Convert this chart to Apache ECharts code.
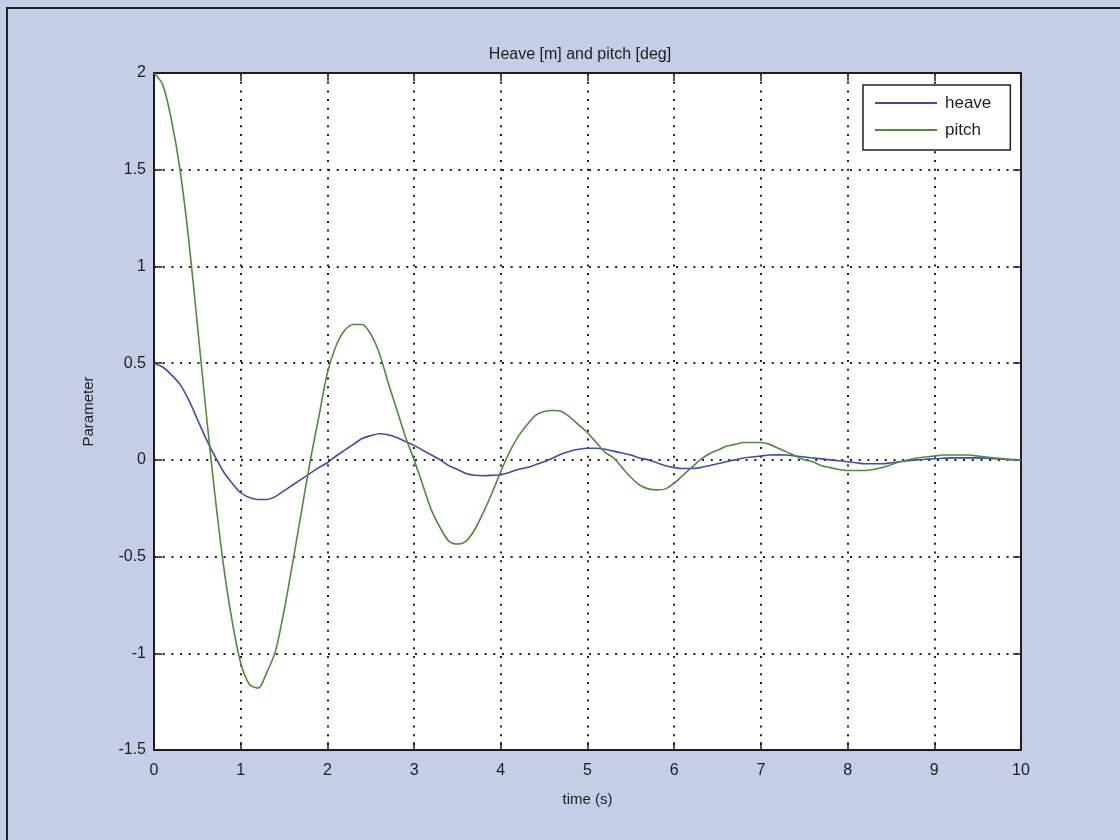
<!DOCTYPE html>
<html>
<head>
<meta charset="utf-8">
<script src="https://cdn.jsdelivr.net/npm/echarts@6/dist/echarts.min.js"></script>
<style>
  html, body { margin: 0; padding: 0; background: #c5cee6; }
  #chart { width: 1120px; height: 840px; }
</style>
</head>
<body>
<div id="chart"></div>
<script>
// Time samples (s)
const time = [
  0.0, 0.1, 0.2, 0.3, 0.4, 0.5, 0.6, 0.7, 0.8, 0.9,
  1.0, 1.1, 1.2, 1.3, 1.4, 1.5, 1.6, 1.7, 1.8, 1.9,
  2.0, 2.1, 2.2, 2.3, 2.4, 2.5, 2.6, 2.7, 2.8, 2.9,
  3.0, 3.1, 3.2, 3.3, 3.4, 3.5, 3.6, 3.7, 3.8, 3.9,
  4.0, 4.1, 4.2, 4.3, 4.4, 4.5, 4.6, 4.7, 4.8, 4.9,
  5.0, 5.1, 5.2, 5.3, 5.4, 5.5, 5.6, 5.7, 5.8, 5.9,
  6.0, 6.1, 6.2, 6.3, 6.4, 6.5, 6.6, 6.7, 6.8, 6.9,
  7.0, 7.1, 7.2, 7.3, 7.4, 7.5, 7.6, 7.7, 7.8, 7.9,
  8.0, 8.1, 8.2, 8.3, 8.4, 8.5, 8.6, 8.7, 8.8, 8.9,
  9.0, 9.1, 9.2, 9.3, 9.4, 9.5, 9.6, 9.7, 9.8, 9.9,
  10.0
];

// Heave response [m]
const heave = [
  0.50, 0.48, 0.44, 0.39, 0.31, 0.21, 0.11, 0.02, -0.06, -0.12,
  -0.17, -0.195, -0.205, -0.205, -0.19, -0.16, -0.13, -0.10, -0.07, -0.04,
  -0.015, 0.02, 0.05, 0.08, 0.11, 0.125, 0.135, 0.13, 0.115, 0.095,
  0.075, 0.05, 0.025, 0.00, -0.03, -0.05, -0.07, -0.08, -0.082, -0.08,
  -0.077, -0.065, -0.05, -0.04, -0.025, -0.01, 0.01, 0.03, 0.045, 0.055,
  0.06, 0.06, 0.055, 0.045, 0.035, 0.025, 0.01, 0.00, -0.015, -0.03,
  -0.04, -0.045, -0.045, -0.04, -0.03, -0.02, -0.01, 0.00, 0.01, 0.015,
  0.02, 0.025, 0.026, 0.025, 0.02, 0.015, 0.01, 0.005, 0.00, -0.005,
  -0.01, -0.015, -0.02, -0.02, -0.02, -0.015, -0.01, -0.005, 0.00, 0.003,
  0.006, 0.008, 0.01, 0.01, 0.01, 0.01, 0.008, 0.006, 0.004, 0.002,
  0.00
];

// Pitch response [deg]
const pitch = [
  2.00, 1.94, 1.76, 1.50, 1.14, 0.70, 0.25, -0.17, -0.54, -0.83,
  -1.05, -1.16, -1.18, -1.10, -0.99, -0.78, -0.53, -0.27, -0.01, 0.22,
  0.45, 0.59, 0.67, 0.70, 0.70, 0.65, 0.55, 0.40, 0.26, 0.12,
  0.00, -0.13, -0.26, -0.35, -0.42, -0.435, -0.42, -0.36, -0.27, -0.17,
  -0.06, 0.04, 0.12, 0.18, 0.23, 0.25, 0.255, 0.25, 0.22, 0.18,
  0.14, 0.09, 0.04, 0.01, -0.04, -0.09, -0.13, -0.15, -0.155, -0.15,
  -0.12, -0.08, -0.04, 0.00, 0.03, 0.05, 0.07, 0.08, 0.09, 0.09,
  0.09, 0.08, 0.06, 0.04, 0.02, 0.00, -0.01, -0.03, -0.04, -0.05,
  -0.055, -0.055, -0.055, -0.05, -0.04, -0.025, -0.01, 0.00, 0.01, 0.015,
  0.02, 0.025, 0.025, 0.025, 0.025, 0.02, 0.015, 0.01, 0.005, 0.00,
  0.00
];

const seriesNames = ['heave', 'pitch'];
const titleText = 'Heave [m] and pitch [deg]';
const xName = 'time (s)';
const yName = 'Parameter';

const FONT = '"Liberation Sans", Arial, Helvetica, sans-serif';
const INK = '#1e1e1e';

const pairs = (ys) => time.map((t, i) => [t, ys[i]]);

// MATLAB-style dotted grid
const gridLine = {
  show: true,
  lineStyle: { color: '#222', width: 2, type: [2, 6.7] }
};

const chart = echarts.init(document.getElementById('chart'), null, { renderer: 'canvas' });

chart.setOption({
  backgroundColor: '#c5cee6',
  animation: false,
  title: {
    text: titleText,
    left: 575,
    top: 42,
    textAlign: 'center',
    textStyle: { fontFamily: FONT, fontSize: 16, fontWeight: 'normal', color: INK }
  },
  legend: {
    data: seriesNames,
    orient: 'vertical',
    left: 863,
    top: 85,
    padding: [9, 19, 11, 12],
    itemGap: 9,
    itemWidth: 62,
    itemHeight: 2,
    icon: 'rect',
    backgroundColor: '#ffffff',
    borderColor: '#222',
    borderWidth: 1.5,
    textStyle: { fontFamily: FONT, fontSize: 17, color: INK, lineHeight: 18, padding: [0, 0, 0, 3] }
  },
  grid: {
    left: 154,
    right: 1120 - 1021,
    top: 73,
    bottom: 840 - 750,
    show: true,
    backgroundColor: '#ffffff',
    borderColor: 'transparent'
  },
  xAxis: [
    {
      type: 'value',
      min: 0, max: 10, interval: 1,
      position: 'bottom',
      name: xName,
      nameLocation: 'middle',
      nameGap: 42,
      nameTextStyle: { fontFamily: FONT, fontSize: 15, color: INK },
      axisLine: { show: true, onZero: false, lineStyle: { color: INK, width: 2 } },
      axisTick: { show: true, inside: true, length: 8, lineStyle: { color: INK, width: 1.5 } },
      axisLabel: { fontFamily: FONT, fontSize: 16, color: INK, margin: 13 },
      splitLine: gridLine
    },
    {
      type: 'value',
      min: 0, max: 10, interval: 1,
      position: 'top',
      axisLine: { show: true, onZero: false, lineStyle: { color: INK, width: 2 } },
      axisTick: { show: true, inside: true, length: 8, lineStyle: { color: INK, width: 1.5 } },
      axisLabel: { show: false },
      splitLine: { show: false }
    }
  ],
  yAxis: [
    {
      type: 'value',
      min: -1.5, max: 2, interval: 0.5,
      position: 'left',
      name: yName,
      nameLocation: 'middle',
      nameGap: 58,
      nameTextStyle: { fontFamily: FONT, fontSize: 15, color: INK },
      axisLine: { show: true, onZero: false, lineStyle: { color: INK, width: 2 } },
      axisTick: { show: true, inside: true, length: 8, lineStyle: { color: INK, width: 1.5 } },
      axisLabel: { fontFamily: FONT, fontSize: 16, color: INK, margin: 8 },
      splitLine: gridLine
    },
    {
      type: 'value',
      min: -1.5, max: 2, interval: 0.5,
      position: 'right',
      axisLine: { show: true, onZero: false, lineStyle: { color: INK, width: 2 } },
      axisTick: { show: true, inside: true, length: 8, lineStyle: { color: INK, width: 1.5 } },
      axisLabel: { show: false },
      splitLine: { show: false }
    }
  ],
  series: [
    {
      name: seriesNames[0],
      type: 'line',
      data: pairs(heave),
      showSymbol: false,
      smooth: 0.3,
      color: '#3c4eac',
      lineStyle: { color: '#3c4eac', width: 1.6 },
      z: 3
    },
    {
      name: seriesNames[1],
      type: 'line',
      data: pairs(pitch),
      showSymbol: false,
      smooth: 0.3,
      color: '#4e8c3c',
      lineStyle: { color: '#4e8c3c', width: 1.6 },
      z: 4
    }
  ],
  graphic: [
    {
      type: 'polyline',
      shape: { points: [[7, 840], [7, 8], [1120, 8]] },
      style: { stroke: '#222', lineWidth: 2, fill: null },
      silent: true
    }
  ]
});
</script>
</body>
</html>
